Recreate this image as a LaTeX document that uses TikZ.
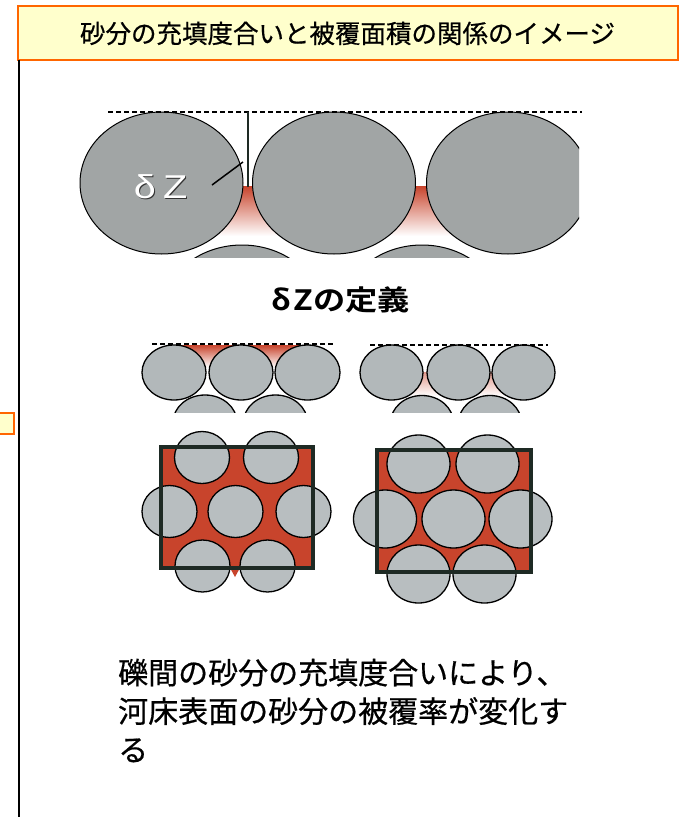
\documentclass[tikz,border=0pt]{standalone}
\usepackage{fontspec}
\newfontfamily\jp{Noto Sans CJK JP}[FakeBold=0.6]
\newfontfamily\jpbold{Noto Sans CJK JP Bold}
\newfontfamily\lat{Liberation Sans}

\definecolor{grainTop}{RGB}{161,165,165}
\definecolor{grainMid}{RGB}{178,184,186}
\definecolor{grainLow}{RGB}{184,190,192}
\definecolor{sandred}{RGB}{200,68,44}
\definecolor{framecol}{RGB}{30,42,36}
\definecolor{tabline}{RGB}{255,102,0}
\definecolor{tabfill}{RGB}{255,255,204}

\tikzset{
  tabbox/.style={draw=tabline, fill=tabfill, line width=2.5pt},
  graintop/.style={draw=black, fill=grainTop, line width=1pt},
  grainmid/.style={draw=black, fill=grainMid, line width=1.3pt},
  grainlow/.style={draw=black, fill=grainLow, line width=1.3pt},
  surface/.style={draw=black, line width=1.6pt, dash pattern=on 5pt off 3pt},
  cellframe/.style={draw=framecol, line width=4pt},
  gapfade/.style={top color=sandred, bottom color=white},
  palefade/.style={top color=sandred!55, bottom color=white},
  sandfill/.style={fill=sandred},
}

\begin{document}
\begin{tikzpicture}[x=1pt, y=-1pt]
\useasboundingbox (0,0) rectangle (679,817);
\fill[white] (0,0) rectangle (679,817);

% ---- heading tab ----
\node[tabbox, minimum width=660pt, minimum height=54pt, inner sep=0pt] (head) at (348,33) {};
\node[anchor=base, inner sep=0pt] (headtext) at (347.5,43)
  {\jp\fontsize{25.5}{25.5}\selectfont 砂分の充填度合いと被覆面積の関係のイメージ};

% left rule and the small tab at its side
\coordinate (railtop) at (19,60);
\coordinate (railbot) at (19,817);
\draw[black, line width=1.5pt] (railtop) -- (railbot);
\draw[tabbox] (-10,413) rectangle (14,434);

% ---- large section: definition of delta Z ----
\begin{scope}
  \clip (78,100) rectangle (579,257);
  \shade[gapfade] (200,186) rectangle (296,236);
  \shade[gapfade] (375,186) rectangle (470,236);
  \draw[graintop] (242,316) ellipse [x radius=81.5, y radius=71];
  \draw[graintop] (422,316) ellipse [x radius=81.5, y radius=71];
  \draw[graintop] (161.5,183) ellipse [x radius=81.5, y radius=71];
  \draw[graintop] (334,183) ellipse [x radius=81.5, y radius=71];
  \draw[graintop] (508,183) ellipse [x radius=81.5, y radius=71];
\end{scope}
\coordinate (topL) at (108,112);
\coordinate (topR) at (582,112);
\draw[surface] (topL) -- (topR);
\coordinate (dzup) at (248,112);
\coordinate (dzdown) at (248,187);
\draw[framecol, line width=2pt] (dzup) -- (dzdown);
\node[inner sep=0pt, xscale=1.2, text=black!80] (dzshadow) at (161.5,188)
  {\lat\fontsize{33}{33}\selectfont δ\hspace{6pt}Z};
\node[inner sep=0pt, xscale=1.2, text=white] (dz) at (160.5,187)
  {\lat\fontsize{33}{33}\selectfont δ\hspace{6pt}Z};
\coordinate (dzfoot) at (212,185);
\coordinate (dzhead) at (243,162);
\draw[black, line width=1.5pt] (dzfoot) -- (dzhead);

\node[anchor=base east, inner sep=0pt, xscale=1.15] (deftitle) at (410,310)
  {\jpbold\fontsize{28}{28}\selectfont δ\hspace{2pt}Zの定義};

% ---- loose packing (left) ----
\shade[gapfade] (174,345) rectangle (307,367);
\begin{scope}
  \clip (100,330) rectangle (600,412);
  \draw[grainmid] (205,422.5) ellipse [x radius=32, y radius=27.5];
  \draw[grainmid] (275.5,422.5) ellipse [x radius=32, y radius=27.5];
  \shade[palefade] (405,372) rectangle (445,396);
  \shade[palefade] (475,372) rectangle (508,396);
  \draw[grainmid] (422,423) ellipse [x radius=31.5, y radius=27.5];
  \draw[grainmid] (490,423) ellipse [x radius=31.5, y radius=27.5];
\end{scope}
\draw[grainmid] (174,372.5) ellipse [x radius=32, y radius=27.5];
\draw[grainmid] (241,372.5) ellipse [x radius=32, y radius=27.5];
\draw[grainmid] (307.5,372.5) ellipse [x radius=32.5, y radius=27.5];
\coordinate (looseL) at (152,344);
\coordinate (looseR) at (335,344);
\draw[surface] (looseL) -- (looseR);

% ---- dense packing (right) ----
\draw[grainmid] (391.5,372.5) ellipse [x radius=31.5, y radius=27.5];
\draw[grainmid] (458.5,372.5) ellipse [x radius=31.5, y radius=27.5];
\draw[grainmid] (523.5,372.5) ellipse [x radius=31.5, y radius=27.5];
\coordinate (denseL) at (370,345);
\coordinate (denseR) at (548,345);
\draw[surface] (denseL) -- (denseR);

% ---- plan view, loose ----
\fill[sandfill] (161,447) rectangle (313,568);
\fill[sandfill] (229,566) -- (241,566) -- (235,577) -- cycle;
\foreach \cx/\cy in {202/457.5, 271/457.5, 169.5/511.5, 235.5/511.5, 303.5/511.5, 202.5/566, 267.5/566}
  \draw[grainlow] (\cx,\cy) ellipse [x radius=27.5, y radius=26];
\draw[cellframe] (161,447) rectangle (313,568);

% ---- plan view, dense ----
\fill[sandfill] (377,450) rectangle (531,572);
\foreach \cx/\cy in {418.5/464, 487.5/464, 385/519, 453.5/519, 520.5/519, 418.5/574, 484.5/574}
  \draw[grainlow] (\cx,\cy) ellipse [x radius=31.5, y radius=29];
\draw[cellframe] (377,450) rectangle (531,572);

% ---- note ----
\node[anchor=base west, inner sep=0pt] (note1) at (118,684)
  {\jp\fontsize{30}{30}\selectfont 礫間の砂分の充填度合いにより、};
\node[anchor=base west, inner sep=0pt] (note2) at (118,722.5)
  {\jp\fontsize{30}{30}\selectfont 河床表面の砂分の被覆率が変化す};
\node[anchor=base west, inner sep=0pt] (note3) at (118,761)
  {\jp\fontsize{30}{30}\selectfont る};
\end{tikzpicture}
\end{document}
